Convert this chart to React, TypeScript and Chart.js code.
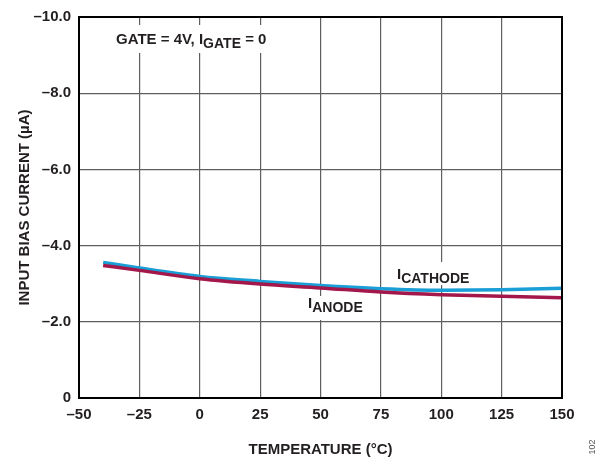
import React, { useEffect, useRef } from "react";
import { Chart, registerables } from "chart.js";

Chart.register(...registerables);

const temperatures = [-40, -25, 0, 25, 50, 75, 100, 125, 150];
const cathodeCurrent = [-3.56, -3.41, -3.19, -3.06, -2.95, -2.87, -2.83, -2.84, -2.88];
const anodeCurrent = [-3.48, -3.35, -3.13, -2.99, -2.89, -2.78, -2.71, -2.67, -2.63];

const xTitle = "TEMPERATURE (°C)";
const yTitle = "INPUT BIAS CURRENT (µA)";
const FONT = '"Liberation Sans", Arial, Helvetica, sans-serif';
const TEXT = "#231f20";

function drawSubText(ctx: CanvasRenderingContext2D, x: number, y: number, parts: [string, boolean][]) {
  let cx = x;
  ctx.textAlign = "left";
  ctx.textBaseline = "alphabetic";
  for (const [t, sub] of parts) {
    ctx.font = sub ? `bold 14px ${FONT}` : `bold 15px ${FONT}`;
    ctx.fillText(t, cx, sub ? y + 4 : y);
    cx += ctx.measureText(t).width;
  }
}

const overlayPlugin = {
  id: "overlay",
  beforeDatasetsDraw(chart: any) {
    const ctx = chart.ctx as CanvasRenderingContext2D;
    ctx.save();
    ctx.fillStyle = "#ffffff";
    ctx.fillRect(108, 25, 170, 28);
    ctx.fillRect(393, 262, 82, 23);
    ctx.fillRect(303, 296, 62, 24);
    ctx.restore();
  },
  afterDraw(chart: any) {
    const ctx = chart.ctx as CanvasRenderingContext2D;
    const a = chart.chartArea;
    ctx.save();
    ctx.strokeStyle = "#000";
    ctx.lineWidth = 2;
    ctx.strokeRect(a.left, a.top, a.right - a.left, a.bottom - a.top);

    ctx.fillStyle = TEXT;
    drawSubText(ctx, 116, 44, [["GATE = 4V, I", false], ["GATE", true], [" = 0", false]]);
    drawSubText(ctx, 397, 279, [["I", false], ["CATHODE", true]]);
    drawSubText(ctx, 308, 308, [["I", false], ["ANODE", true]]);

    ctx.font = `bold 15px ${FONT}`;
    ctx.textAlign = "center";
    ctx.textBaseline = "alphabetic";
    ctx.fillText(xTitle, (a.left + a.right) / 2, 454);

    ctx.save();
    ctx.translate(29, (a.top + a.bottom) / 2);
    ctx.rotate(-Math.PI / 2);
    ctx.fillText(yTitle, 0, 0);
    ctx.restore();

    ctx.save();
    ctx.translate(595, 447);
    ctx.rotate(-Math.PI / 2);
    ctx.font = `9px ${FONT}`;
    ctx.fillStyle = "#555";
    ctx.textAlign = "center";
    ctx.fillText("102", 0, 0);
    ctx.restore();
    ctx.restore();
  },
};

export default function App() {
  const ref = useRef<HTMLCanvasElement | null>(null);
  useEffect(() => {
    if (!ref.current) return;
    const chart = new Chart(ref.current, {
      type: "line",
      data: {
        datasets: [
          {
            label: "I ANODE",
            data: temperatures.map((t, i) => ({ x: t, y: anodeCurrent[i] })),
            borderColor: "#a3174a",
            borderWidth: 3.5,
            pointRadius: 0,
            cubicInterpolationMode: "monotone",
            fill: false,
          },
          {
            label: "I CATHODE",
            data: temperatures.map((t, i) => ({ x: t, y: cathodeCurrent[i] })),
            borderColor: "#1a9ed6",
            borderWidth: 3.5,
            pointRadius: 0,
            cubicInterpolationMode: "monotone",
            fill: false,
          },
        ],
      },
      options: {
        responsive: false,
        animation: false,
        layout: { padding: { top: 15, right: 44, left: 0, bottom: 0 } },
        plugins: { legend: { display: false }, tooltip: { enabled: false } },
        scales: {
          x: {
            type: "linear",
            min: -50,
            max: 150,
            afterFit: (s: any) => { s.height = 65; },
            ticks: {
              stepSize: 25,
              padding: 8,
              color: TEXT,
              font: { family: FONT, size: 15, weight: "bold" },
              maxRotation: 0,
              callback: (v: any) => (v < 0 ? "\u2013" + Math.abs(v) : String(v)),
            },
            grid: { color: "#5f5f5f", lineWidth: 1.2, drawTicks: false },
            border: { display: true, color: "#000", width: 2 },
          },
          y: {
            type: "linear",
            min: -10,
            max: 0,
            reverse: true,
            afterFit: (s: any) => { s.width = 79; },
            ticks: {
              stepSize: 2,
              padding: 8,
              color: TEXT,
              font: { family: FONT, size: 15, weight: "bold" },
              callback: (v: any) => (v === 0 ? "0" : "\u2013" + Math.abs(v).toFixed(1)),
            },
            grid: { color: "#5f5f5f", lineWidth: 1.2, drawTicks: false },
            border: { display: true, color: "#000", width: 2 },
          },
        },
      },
      plugins: [overlayPlugin],
    } as any);
    return () => chart.destroy();
  }, []);
  return (
    <div style={{ position: "fixed", left: 0, top: 0, width: 606, height: 463, background: "#fff" }}>
      <canvas ref={ref} width={606} height={463} style={{ display: "block" }} />
    </div>
  );
}
